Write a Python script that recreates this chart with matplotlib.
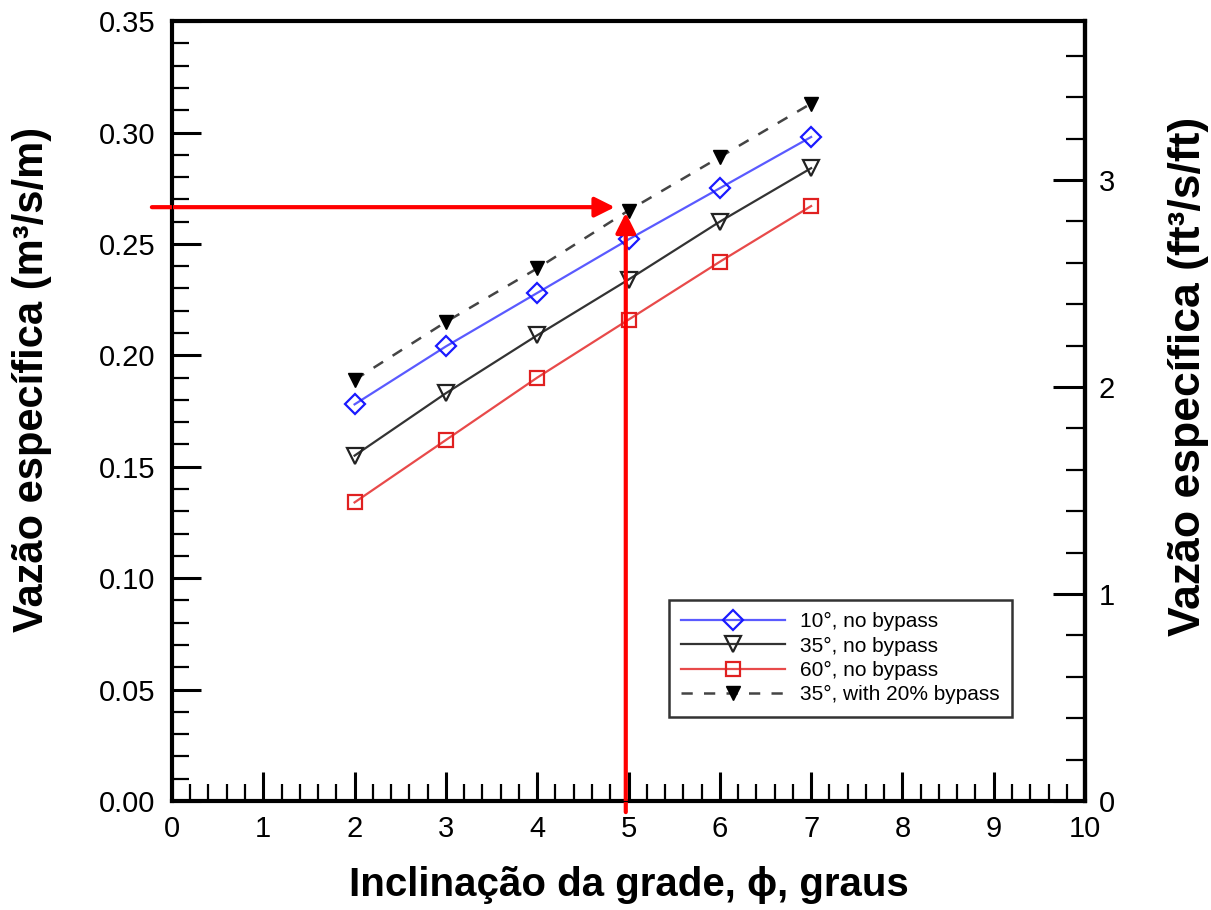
import matplotlib
matplotlib.use("Agg")
import matplotlib.pyplot as plt
from matplotlib.ticker import MultipleLocator

plt.rcParams['font.family'] = ['Liberation Sans', 'DejaVu Sans']

# Grate inclination (degrees)
inclination = [2, 3, 4, 5, 6, 7]

# Unit discharge (m^3/s/m) for each bar angle
q_10_no_bypass = [0.178, 0.204, 0.228, 0.252, 0.275, 0.298]
q_35_no_bypass = [0.155, 0.183, 0.209, 0.234, 0.260, 0.284]
q_60_no_bypass = [0.134, 0.162, 0.190, 0.216, 0.242, 0.267]
q_35_bypass20 = [0.189, 0.215, 0.239, 0.265, 0.289, 0.313]

series_labels = ["10°, no bypass", "35°, no bypass", "60°, no bypass",
                 "35°, with 20% bypass"]

x_ticks = [0, 1, 2, 3, 4, 5, 6, 7, 8, 9, 10]
y_ticks = [0.00, 0.05, 0.10, 0.15, 0.20, 0.25, 0.30, 0.35]
y2_ticks = [0, 1, 2, 3]

M3_PER_FT3_PER_M_PER_FT = 0.0929  # 1 ft^3/s/ft in m^3/s/m

# Reading example: slope 5 degrees -> design discharge
example_x = 4.97
example_q = 0.2665

fig = plt.figure(figsize=(12.11, 9.10), dpi=100)
ax = fig.add_axes([0.142, 0.1198, 0.754, 0.857])

ax.plot(inclination, q_10_no_bypass, color='#5a5aff', lw=1.6,
        marker='D', ms=10, mfc='none', mec='#1a1aff', mew=1.6,
        label=series_labels[0])
ax.plot(inclination, q_35_no_bypass, color='#333333', lw=1.6,
        marker='v', ms=12, mfc='none', mec='#222222', mew=1.6,
        label=series_labels[1])
ax.plot(inclination, q_60_no_bypass, color='#e84a4a', lw=1.6,
        marker='s', ms=9.5, mfc='none', mec='#e02020', mew=1.6,
        label=series_labels[2])
ax.plot(inclination, q_35_bypass20, color='#444444', lw=1.8,
        ls=(0, (4.5, 4.5)), marker='v', ms=10, mfc='black', mec='black',
        label=series_labels[3])

ax.set_xlim(0, 10)
ax.set_ylim(0, 0.35)
ax.set_xticks(x_ticks)
ax.set_yticks(y_ticks)
ax.set_yticklabels([f"{v:.2f}" for v in y_ticks])
ax.xaxis.set_minor_locator(MultipleLocator(0.2))
ax.yaxis.set_minor_locator(MultipleLocator(0.01))
ax.tick_params(which='major', direction='in', length=21, width=2.2,
               labelsize=21, pad=10, top=False, right=False)
ax.tick_params(which='minor', direction='in', length=12, width=1.6,
               top=False, right=False)
ax.tick_params(axis='y', which='major', pad=12)
for s in ax.spines.values():
    s.set_linewidth(3)

ax.set_xlabel("Inclinação da grade, ϕ, graus", fontsize=29,
              fontweight='bold', labelpad=17)
ax.set_ylabel("Vazão específica (m³/s/m)", fontsize=30,
              fontweight='bold')
ax.yaxis.set_label_coords(-0.131, 0.54)

# Secondary axis in US units
ax2 = ax.twinx()
ax2.set_ylim(0, 0.35 / M3_PER_FT3_PER_M_PER_FT)
ax2.set_yticks(y2_ticks)
ax2.yaxis.set_minor_locator(MultipleLocator(0.2))
ax2.tick_params(which='major', direction='in', length=23, width=2.2,
                labelsize=21, pad=10)
ax2.tick_params(which='minor', direction='in', length=14, width=1.6)
ax2.spines['right'].set_linewidth(3)
ax2.set_ylabel("Vazão específica (ft³/s/ft)", fontsize=32,
               fontweight='bold')
ax2.yaxis.set_label_coords(1.091, 0.545)

# Reading arrows
arrow_kw = dict(arrowstyle='-|>', color='#ff0000', lw=3, mutation_scale=30,
                shrinkA=0, shrinkB=0)
ax.annotate('', xy=(4.85, example_q), xytext=(-0.22, example_q),
            arrowprops=arrow_kw, annotation_clip=False, zorder=5)
ax.annotate('', xy=(example_x, 0.264), xytext=(example_x, -0.005),
            arrowprops=arrow_kw, annotation_clip=False, zorder=5)

leg = ax.legend(loc='lower left', bbox_to_anchor=(0.544, 0.108),
                borderaxespad=0, fontsize=15, handlelength=5.0,
                labelspacing=0.25, frameon=True, fancybox=False,
                edgecolor='black', borderpad=0.6, handletextpad=0.7)
leg.get_frame().set_linewidth(1.8)

fig.savefig("out.png", dpi=100)
